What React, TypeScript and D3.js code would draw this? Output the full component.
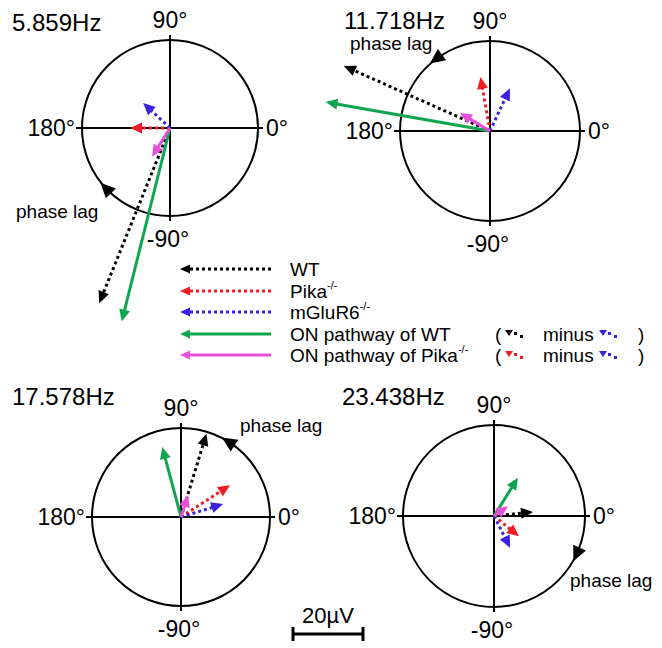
import React from "react";
import * as d3 from "d3";

// ---- data (amplitude in µV, phase in degrees) ----
const freqs = ["5.859Hz", "11.718Hz", "17.578Hz", "23.438Hz"];
const wtAmp = [54, 45.7, 24.9, 11.2];
const wtPhase = [-112, 156, 73, 6];
const pikaAmp = [11.4, 15.7, 16.7, 9.2];
const pikaPhase = [180, 100, 33, -39];
const mglurAmp = [10.5, 13.5, 12.6, 10.2];
const mglurPhase = [137, 65, 17, -63];
const onWtAmp = [57, 47.7, 20.7, 12.9];
const onWtPhase = [-104, 170, 105, 58];
const onPikaAmp = [9.7, 10, 6.6, 4.9];
const onPikaPhase = [-122, 149, 72, 35];
const axisLabels = ["0°", "90°", "180°", "-90°"];
const scaleBarValue = 20;

// ---- layout ----
const W = 662;
const H = 648;
const FONT = "'Liberation Sans', Arial, sans-serif";
const BLACK = "#000";
const RED = "#ee1c24";
const BLUE = "#3a22e0";
const GREEN = "#10a64f";
const MAGENTA = "#e94fdc";

const panels = [
  { cx: 170, cy: 128, r: 88, tx: 12, ty: 31, lagAt: -136, lagDir: "cw", lx: 16, ly: 218 },
  { cx: 490, cy: 131, r: 90, tx: 344, ty: 29, lagAt: 126, lagDir: "ccw", lx: 350, ly: 50 },
  { cx: 181, cy: 517, r: 89, tx: 12, ty: 405, lagAt: 57, lagDir: "ccw", lx: 240, ly: 432 },
  { cx: 494, cy: 516, r: 91, tx: 342, ty: 405, lagAt: -24, lagDir: "cw", lx: 570, ly: 587 },
];

const series = [
  { name: "WT", amp: wtAmp, phase: wtPhase, color: BLACK, dotted: true },
  { name: "Pika", amp: pikaAmp, phase: pikaPhase, color: RED, dotted: true },
  { name: "mGluR6", amp: mglurAmp, phase: mglurPhase, color: BLUE, dotted: true },
  { name: "onWT", amp: onWtAmp, phase: onWtPhase, color: GREEN, dotted: false },
  { name: "onPika", amp: onPikaAmp, phase: onPikaPhase, color: MAGENTA, dotted: false },
];

// 20 µV == 70 px
const ampScale = d3.scaleLinear().domain([0, scaleBarValue]).range([0, 70]);
// math phase (ccw from 3 o'clock) -> d3.pointRadial angle (cw from 12 o'clock)
const angScale = d3.scaleLinear().domain([0, 360]).range([Math.PI / 2, Math.PI / 2 - 2 * Math.PI]);

function Arrow({ x1, y1, x2, y2, color, dotted, head = 12, hw = 5.5 }: any) {
  const dx = x2 - x1;
  const dy = y2 - y1;
  const len = Math.hypot(dx, dy) || 1;
  const ux = dx / len;
  const uy = dy / len;
  const bx = x2 - ux * head;
  const by = y2 - uy * head;
  const pts = [
    [x2, y2],
    [bx - uy * hw, by + ux * hw],
    [bx + uy * hw, by - ux * hw],
  ];
  return (
    <g>
      <line
        x1={x1}
        y1={y1}
        x2={bx + ux * 1}
        y2={by + uy * 1}
        stroke={color}
        strokeWidth={3}
        strokeDasharray={dotted ? "3 3" : undefined}
      />
      <polygon points={pts.map((p) => p.join(",")).join(" ")} fill={color} />
    </g>
  );
}

function Panel({ p, i }: any) {
  const { cx, cy, r } = p;
  const th = (p.lagAt * Math.PI) / 180;
  const px = cx + r * Math.cos(th);
  const py = cy - r * Math.sin(th);
  const s = p.lagDir === "cw" ? 1 : -1;
  const tx = s * Math.sin(th);
  const ty = s * Math.cos(th);
  const tip = [px + tx * 9, py + ty * 9];
  const bx = px - tx * 6;
  const by = py - ty * 6;
  const tri = [tip, [bx - ty * 7, by + tx * 7], [bx + ty * 7, by - tx * 7]];
  return (
    <g>
      <text x={p.tx} y={p.ty} fontSize={24}>
        {freqs[i]}
      </text>
      <circle cx={cx} cy={cy} r={r} fill="none" stroke="#000" strokeWidth={2} />
      <line x1={cx - r - 6} x2={cx + r + 5} y1={cy} y2={cy} stroke="#000" strokeWidth={2} />
      <line x1={cx} x2={cx} y1={cy - r - 5} y2={cy + r + 5} stroke="#000" strokeWidth={2} />
      <text x={cx + r + 8} y={cy + 8} fontSize={23}>
        {axisLabels[0]}
      </text>
      <text x={cx} y={cy - r - 12} fontSize={23} textAnchor="middle">
        {axisLabels[1]}
      </text>
      <text x={cx - r - 7} y={cy + 8} fontSize={23} textAnchor="end">
        {axisLabels[2]}
      </text>
      <text x={cx - 2} y={cy + r + 31} fontSize={23} textAnchor="middle">
        {axisLabels[3]}
      </text>
      <polygon points={tri.map((q) => q.join(",")).join(" ")} fill="#000" />
      <text x={p.lx} y={p.ly} fontSize={19}>
        phase lag
      </text>
      {series.map((sr) => {
        const [x, y] = d3.pointRadial(angScale(sr.phase[i]), ampScale(sr.amp[i]));
        return (
          <Arrow key={sr.name} x1={cx} y1={cy} x2={cx + x} y2={cy + y} color={sr.color} dotted={sr.dotted} />
        );
      })}
    </g>
  );
}

function MiniIcon({ x, y, color }: any) {
  // small down triangle followed by two dots running down-right
  return (
    <g>
      <polygon points={`${x},${y - 3} ${x + 8},${y - 3} ${x + 4},${y + 3}`} fill={color} />
      <rect x={x + 9} y={y - 1} width={3} height={3} fill={color} />
      <rect x={x + 15} y={y + 2} width={3} height={3} fill={color} />
    </g>
  );
}

function Legend() {
  const rows = [
    { c: BLACK, dotted: true, label: "WT", sup: "" },
    { c: RED, dotted: true, label: "Pika", sup: "-/-" },
    { c: BLUE, dotted: true, label: "mGluR6", sup: "-/-" },
    { c: GREEN, dotted: false, label: "ON pathway of WT", sup: "", minus: [BLACK, BLUE] },
    { c: MAGENTA, dotted: false, label: "ON pathway of Pika", sup: "-/-", minus: [RED, BLUE] },
  ];
  const ys = [269, 291, 312, 334, 355];
  return (
    <g>
      {rows.map((row, k) => (
        <g key={k}>
          <Arrow x1={271} y1={ys[k]} x2={180} y2={ys[k]} color={row.c} dotted={row.dotted} head={10} hw={4.5} />
          <text x={290} y={ys[k] + 7} fontSize={19}>
            {row.label}
            {row.sup && (
              <tspan fontSize={11} dy={-9}>
                {row.sup}
              </tspan>
            )}
          </text>
          {row.minus && (
            <g>
              <text x={495} y={ys[k] + 7} fontSize={19}>
                (
              </text>
              <MiniIcon x={505} y={ys[k] - 1} color={row.minus[0]} />
              <text x={543} y={ys[k] + 7} fontSize={19}>
                minus
              </text>
              <MiniIcon x={599} y={ys[k] - 1} color={row.minus[1]} />
              <text x={638} y={ys[k] + 7} fontSize={19}>
                )
              </text>
            </g>
          )}
        </g>
      ))}
    </g>
  );
}

function ScaleBar() {
  const x0 = 293;
  const x1 = x0 + ampScale(scaleBarValue);
  const y = 634;
  return (
    <g>
      <text x={(x0 + x1) / 2} y={623} fontSize={22} textAnchor="middle">
        {scaleBarValue}µV
      </text>
      <line x1={x0} x2={x1} y1={y} y2={y} stroke="#000" strokeWidth={3} />
      <line x1={x0} x2={x0} y1={y - 7} y2={y + 7} stroke="#000" strokeWidth={3} />
      <line x1={x1} x2={x1} y1={y - 7} y2={y + 7} stroke="#000" strokeWidth={3} />
    </g>
  );
}

export default function App() {
  return (
    <svg
      width={W}
      height={H}
      style={{ position: "absolute", left: 0, top: 0, background: "#fff" }}
      fontFamily={FONT}
    >
      {panels.map((p, i) => (
        <Panel key={i} p={p} i={i} />
      ))}
      <Legend />
      <ScaleBar />
    </svg>
  );
}
